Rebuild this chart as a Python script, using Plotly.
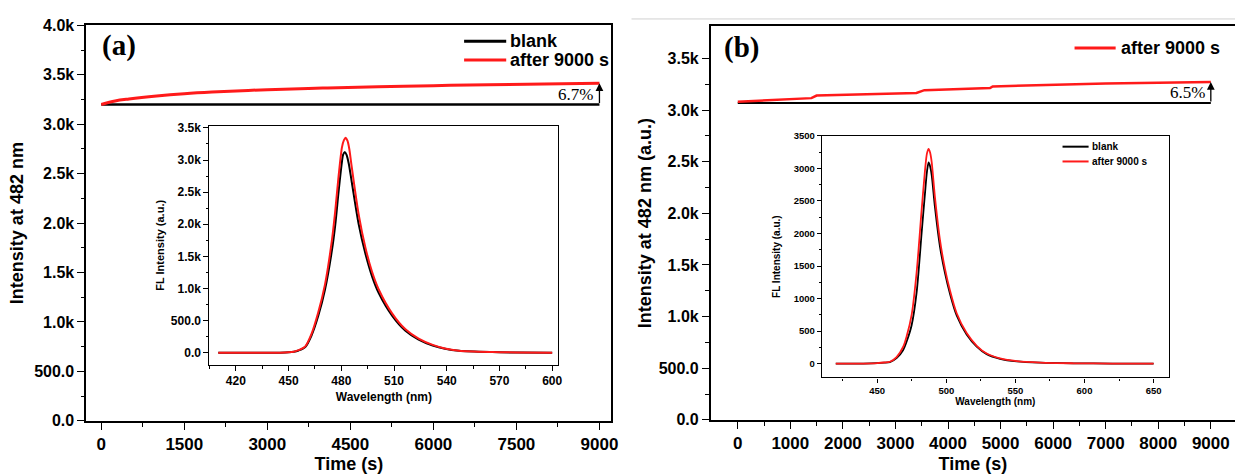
import plotly.graph_objects as go

W, H = 1242, 475

# ---------------- data ----------------
# Panel (a) main: intensity at 482 nm vs time
time_a = [0, 250, 500, 1000, 1500, 2000, 3000, 4000, 5000, 6000, 7000, 8000, 9000]
blank_a = [3200] * len(time_a)
after_a = [3200, 3235, 3255, 3285, 3308, 3325, 3350, 3366, 3380, 3390, 3400, 3407, 3414]
pct_a = "6.7%"

# Panel (a) inset: spectra
wl_a_blank = [410, 430, 445, 450, 453, 455.7, 459.5, 463, 466.9, 470.7, 474.7, 476.6, 478.5, 480.4, 481, 482, 483,
              484.2, 486, 489.9, 493.7, 497.5, 501.3, 509, 516.5, 524, 532, 539, 547, 566, 580, 600]
fl_a_blank = [0, 0, 2, 6, 15, 35, 90, 265, 575, 980, 1600, 2000, 2520, 2980, 3080, 3125, 3080,
              2950, 2650, 2000, 1545, 1190, 930, 575, 343, 205, 113, 61, 30, 10, 4, 0]
wl_a_after = [410, 430, 445, 450, 453, 455.7, 459.5, 463, 466.9, 470.7, 474.7, 476.6, 478.5, 480.4, 481.5, 482.5,
              483.5, 484.5, 486, 489.9, 493.7, 497.5, 501.3, 509, 516.5, 524, 532, 539, 547, 566, 580, 600]
fl_a_after = [0, 0, 2, 7, 17, 40, 100, 290, 630, 1060, 1760, 2220, 2760, 3200, 3310, 3345,
              3300, 3180, 2880, 2150, 1640, 1260, 985, 610, 365, 220, 122, 66, 33, 12, 5, 1]

# Panel (b) main
time_b_blank = [0, 9000]
blank_b = [3067, 3067]
time_b = [0, 250, 500, 1000, 1400, 1500, 2000, 2500, 3000, 3400, 3550, 4000, 4500, 4800, 4850,
          5500, 6000, 7000, 8000, 9000]
after_b = [3080, 3086, 3092, 3105, 3115, 3140, 3148, 3155, 3160, 3165, 3192, 3200, 3208, 3212, 3228,
           3238, 3245, 3256, 3265, 3272]
pct_b = "6.5%"

# Panel (b) inset: spectra
wl_b = [420, 440, 450, 455, 459.2, 464, 468.8, 471.3, 474.9, 478.5, 482.1, 484.5, 486, 487.2, 488.3, 489.4,
        491.8, 495.4, 499, 502.7, 507.5, 514.7, 522, 529.2, 538.9, 551, 567.9, 592, 620, 650]
fl_b_blank = [0, 2, 8, 15, 25, 85, 210, 340, 590, 1090, 2000, 2600, 2950, 3090, 3030, 2900,
              2400, 1800, 1395, 1070, 740, 448, 262, 146, 75, 35, 15, 5, 2, 0]
fl_b_after = [0, 2, 9, 18, 30, 100, 260, 420, 750, 1400, 2350, 2950, 3230, 3300, 3240, 3100,
              2550, 1900, 1460, 1120, 775, 470, 275, 155, 80, 38, 16, 6, 2, 0]

# tick labels
yt_a_vals = [0, 500, 1000, 1500, 2000, 2500, 3000, 3500, 4000]
yt_a_text = ["0.0", "500.0", "1.0k", "1.5k", "2.0k", "2.5k", "3.0k", "3.5k", "4.0k"]
xt_a_vals = [0, 1500, 3000, 4500, 6000, 7500, 9000]
yt_ai_vals = [0, 500, 1000, 1500, 2000, 2500, 3000, 3500]
yt_ai_text = ["0.0", "500.0", "1.0k", "1.5k", "2.0k", "2.5k", "3.0k", "3.5k"]
xt_ai_vals = [420, 450, 480, 510, 540, 570, 600]
yt_b_vals = [0, 500, 1000, 1500, 2000, 2500, 3000, 3500]
yt_b_text = ["0.0", "500.0", "1.0k", "1.5k", "2.0k", "2.5k", "3.0k", "3.5k"]
xt_b_vals = [0, 1000, 2000, 3000, 4000, 5000, 6000, 7000, 8000, 9000]
yt_bi_vals = [0, 500, 1000, 1500, 2000, 2500, 3000, 3500]
xt_bi_vals = [450, 500, 550, 600, 650]
legend_a_names = ["blank", "after 9000 s"]
legend_b_names = ["after 9000 s"]
inset_b_names = ["blank", "after 9000 s"]

BLACK = "#000000"
RED = "#ff1a1a"
SANS = "Liberation Sans, Arial, sans-serif"
SERIF = "Liberation Serif, Times New Roman, serif"


# empirical compensation between layout pixels and the captured picture
def X(x):
    return (x - 2) / 0.992


def Y(y):
    return (y - 1.4) / 0.9776


def px_x(a, b):
    return [min(X(a) / W, 1), min(X(b) / W, 1)]


def px_y(top, bottom):
    return [1 - Y(bottom) / H, 1 - Y(top) / H]


def fx(x):
    return X(x) / W


def fy(y):
    return 1 - Y(y) / H


fig = go.Figure()

# panel a main
fig.add_trace(go.Scatter(x=time_a, y=blank_a, mode="lines", name="blank", line=dict(color=BLACK, width=2.5),
                         xaxis="x", yaxis="y"))
fig.add_trace(go.Scatter(x=time_a, y=after_a, mode="lines", name="after 9000 s", line=dict(color=RED, width=3,
                         shape="spline"), xaxis="x", yaxis="y"))
# panel a inset
fig.add_trace(go.Scatter(x=wl_a_blank, y=fl_a_blank, mode="lines", name="blank",
                         line=dict(color=BLACK, width=2, shape="spline", smoothing=0.8), xaxis="x2", yaxis="y2"))
fig.add_trace(go.Scatter(x=wl_a_after, y=fl_a_after, mode="lines", name="after 9000 s",
                         line=dict(color=RED, width=2, shape="spline", smoothing=0.8), xaxis="x2", yaxis="y2"))
# panel b main
fig.add_trace(go.Scatter(x=time_b_blank, y=blank_b, mode="lines", name="blank",
                         line=dict(color=BLACK, width=2), xaxis="x3", yaxis="y3"))
fig.add_trace(go.Scatter(x=time_b, y=after_b, mode="lines", name="after 9000 s", line=dict(color=RED, width=2.5),
                         xaxis="x3", yaxis="y3"))
# panel b inset
fig.add_trace(go.Scatter(x=wl_b, y=fl_b_blank, mode="lines", name="blank",
                         line=dict(color=BLACK, width=1.8, shape="spline", smoothing=0.8), xaxis="x4", yaxis="y4"))
fig.add_trace(go.Scatter(x=wl_b, y=fl_b_after, mode="lines", name="after 9000 s",
                         line=dict(color=RED, width=1.8, shape="spline", smoothing=0.8), xaxis="x4", yaxis="y4"))


def axis(domain, rng, vals, text, size, title, tsize, anchor, minor_vals, mirror=True, ticklen=6, lw=1.6,
         standoff=None):
    d = dict(domain=domain, range=rng, tickmode="array", tickvals=vals, ticktext=text,
             tickfont=dict(family=SANS, size=size, color=BLACK, weight="bold"),
             showline=True, linecolor=BLACK, linewidth=lw, mirror=mirror, ticks="outside",
             ticklen=ticklen, tickwidth=1.3, tickcolor=BLACK, showgrid=False, zeroline=False,
             anchor=anchor,
             minor=dict(tickmode="array", tickvals=minor_vals, ticks="outside", ticklen=ticklen * 0.55,
                        tickwidth=1.1, tickcolor=BLACK, showgrid=False))
    if title:
        d["title"] = dict(text=title, font=dict(family=SANS, size=tsize, color=BLACK, weight="bold"))
        if standoff is not None:
            d["title"]["standoff"] = standoff
    return d


def mids(vals):
    return [(vals[i] + vals[i + 1]) / 2 for i in range(len(vals) - 1)]


fig.update_layout(
    width=W, height=H, margin=dict(l=0, r=0, t=0, b=0),
    paper_bgcolor="white", plot_bgcolor="white", showlegend=False,
    xaxis=axis(px_x(88, 612), [-272, 9217], xt_a_vals, [str(v) for v in xt_a_vals], 17, "Time (s)", 18, "y",
               mids(xt_a_vals), ticklen=7, standoff=2),
    yaxis=axis(px_y(19, 420), [0, 4000], yt_a_vals, yt_a_text, 16, "Intensity at 482 nm", 18, "x",
               mids(yt_a_vals), ticklen=7, standoff=6),
    xaxis2=axis(px_x(211, 559), [405, 603.5], xt_ai_vals, [str(v) for v in xt_ai_vals], 12, "Wavelength (nm)", 12,
                "y2", [v - 15 for v in xt_ai_vals], ticklen=5, lw=1.4, standoff=5),
    yaxis2=axis(px_y(121, 363), [-185, 3530], yt_ai_vals, yt_ai_text, 12, "FL Intensity (a.u.)", 11, "x2",
                mids(yt_ai_vals), ticklen=5, lw=1.4, standoff=4),
    xaxis3=axis(px_x(711, 1242), [-515, 9460], xt_b_vals, [str(v) for v in xt_b_vals], 17, "Time (s)", 18, "y3",
                mids(xt_b_vals), ticklen=7, standoff=5),
    yaxis3=axis(px_y(20, 419), [0, 3810], yt_b_vals, yt_b_text, 16, "Intensity at 482 nm (a.u.)", 18, "x3",
                mids(yt_b_vals), mirror=False, ticklen=7, standoff=2),
    xaxis4=axis(px_x(822, 1168), [410, 661], xt_bi_vals, [str(v) for v in xt_bi_vals], 9.5, "Wavelength (nm)", 10,
                "y4", [v - 25 for v in xt_bi_vals], ticklen=4, lw=1.3, standoff=2),
    yaxis4=axis(px_y(131, 376), [-212, 3500], yt_bi_vals, [str(v) for v in yt_bi_vals], 9.5, "FL Intensity (a.u.)",
                10, "x4", mids(yt_bi_vals), ticklen=4, lw=1.3, standoff=11),
)


def add_legend(names, colors, x0, x1, xt, ys, size, lw):
    for nm, col, yy in zip(names, colors, ys):
        fig.add_shape(type="line", xref="paper", yref="paper", x0=fx(x0), x1=fx(x1), y0=fy(yy), y1=fy(yy),
                      line=dict(color=col, width=lw))
        fig.add_annotation(x=fx(xt), y=fy(yy), xref="paper", yref="paper", text=nm, showarrow=False,
                           xanchor="left", yanchor="middle",
                           font=dict(family=SANS, size=size, color=BLACK, weight="bold"))


add_legend(legend_a_names, [BLACK, RED], 465, 507, 509, [35, 54], 18, 3)
add_legend(legend_b_names, [RED], 1074, 1115, 1118, [42], 18, 3)
add_legend(inset_b_names, [BLACK, RED], 1062, 1088, 1089, [142, 157], 10, 2)

# Arrows and percentage labels
for xa, ya, t_end, base, top, label, ysh in [("x", "y", time_a[-1], blank_a[-1], after_a[-1], pct_a, -1),
                                            ("x3", "y3", time_b[-1], blank_b[-1], after_b[-1], pct_b, 0)]:
    fig.add_annotation(x=t_end, y=top, ax=t_end, ay=base, xref=xa, yref=ya, axref=xa, ayref=ya,
                       showarrow=True, arrowhead=2, arrowsize=1.2, arrowwidth=1.3, arrowcolor=BLACK, text="")
    fig.add_annotation(x=t_end, y=(base + top) / 2, xref=xa, yref=ya, text=label, showarrow=False,
                       xanchor="right", yanchor="middle", xshift=-4, yshift=ysh,
                       font=dict(family=SERIF, size=17, color=BLACK))

# Panel labels
fig.add_annotation(x=fx(102), y=fy(39), xref="paper", yref="paper", text="(a)", showarrow=False,
                   xanchor="left", yanchor="middle", font=dict(family=SERIF, size=29, color=BLACK, weight="bold"))
fig.add_annotation(x=fx(722), y=fy(41), xref="paper", yref="paper", text="(b)", showarrow=False,
                   xanchor="left", yanchor="middle", font=dict(family=SERIF, size=29, color=BLACK, weight="bold"))

# faint separator line at the top of panel b (from the source image)
fig.add_shape(type="line", xref="paper", yref="paper", x0=fx(632), x1=1, y0=fy(12.5), y1=fy(12.5),
              line=dict(color="#d0d0d0", width=1))

fig.write_html("out.html", config={"displayModeBar": False},
               post_script="document.body.style.margin='0';document.body.style.overflow='hidden';")
